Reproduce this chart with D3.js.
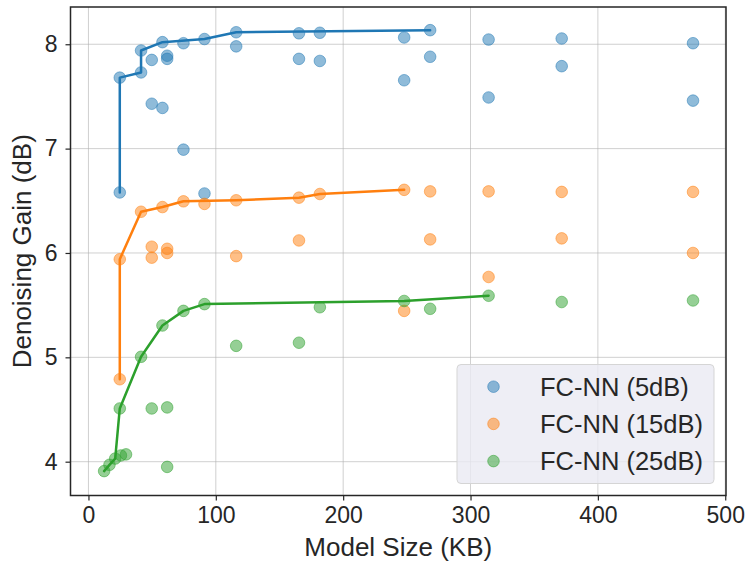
<!DOCTYPE html>
<html>
<head>
<meta charset="utf-8">
<script src="https://cdn.jsdelivr.net/npm/d3@7"></script>
<style>
  html, body { margin: 0; padding: 0; background: #fff; }
  svg { display: block; font-family: Arial, "Liberation Sans", Helvetica, sans-serif; }
</style>
</head>
<body>
<svg id="chart" width="748" height="561"></svg>
<script>
// Model size (KB) and denoising gain (dB) for each FC-NN configuration
const sizes5 = [24.6, 24.6, 41.3, 41.3, 49.7, 49.7, 58.1, 58.1, 61.8, 61.8, 74.6, 74.6, 91.1, 91.1,
                116, 116, 165.3, 165.3, 181.7, 181.7, 247.9, 247.9, 268.3, 268.3, 314.2, 314.2,
                371.6, 371.6, 474.7, 474.7];
const gains5 = [6.58, 7.68, 7.73, 7.94, 7.85, 7.43, 8.02, 7.39, 7.89, 7.86, 8.01, 6.99, 8.05, 6.57,
                8.115, 7.98, 8.105, 7.86, 8.11, 7.84, 8.065, 7.655, 8.135, 7.88, 8.045, 7.49,
                8.055, 7.79, 8.01, 7.46];

const sizes15 = [24.6, 24.6, 41.3, 49.7, 49.7, 58.1, 61.8, 61.8, 74.6, 91.1, 116, 116, 165.3, 165.3,
                 181.7, 247.9, 247.9, 268.3, 268.3, 314.2, 314.2, 371.6, 371.6, 474.7, 474.7];
const gains15 = [4.79, 5.94, 6.395, 6.06, 5.955, 6.44, 6.04, 6.00, 6.495, 6.47, 6.505, 5.97, 6.53, 6.12,
                 6.565, 6.605, 5.445, 6.59, 6.13, 6.59, 5.77, 6.585, 6.14, 6.585, 6.00];

const sizes25 = [12.3, 16.5, 21.0, 25.5, 29.5, 24.6, 41.3, 49.7, 58.1, 61.8, 61.8, 74.6, 91.1, 116,
                 165.3, 181.7, 247.9, 268.3, 314.2, 371.6, 474.7];
const gains25 = [3.91, 3.97, 4.03, 4.06, 4.07, 4.51, 5.005, 4.51, 5.305, 4.52, 3.95, 5.445, 5.51, 5.11,
                 5.14, 5.48, 5.54, 5.465, 5.59, 5.53, 5.545];

const seriesNames = ["FC-NN (5dB)", "FC-NN (15dB)", "FC-NN (25dB)"];
const seriesColors = ["#1f77b4", "#ff7f0e", "#2ca02c"];
const xTicks = [0, 100, 200, 300, 400, 500];
const yTicks = [4, 5, 6, 7, 8];

const series = [
  { name: seriesNames[0], color: seriesColors[0], sizes: sizes5, gains: gains5 },
  { name: seriesNames[1], color: seriesColors[1], sizes: sizes15, gains: gains15 },
  { name: seriesNames[2], color: seriesColors[2], sizes: sizes25, gains: gains25 }
];
series.forEach(s => { s.points = s.sizes.map((d, i) => ({ size: d, gain: s.gains[i] })); });

// Pareto front: walk by increasing size, keep points that raise the best gain so far
function paretoFront(points) {
  const sorted = points.slice().sort((a, b) => a.size - b.size || a.gain - b.gain);
  const front = [];
  let best = -Infinity;
  sorted.forEach(p => { if (p.gain > best) { front.push(p); best = p.gain; } });
  return front;
}

const svg = d3.select("#chart");
const plot = { left: 70.5, right: 726, top: 7, bottom: 495.5 };
const fontStack = "Arial, 'Liberation Sans', Helvetica, sans-serif";

const x = d3.scaleLinear().domain([-14.1, 500.6]).range([plot.left, plot.right]);
const y = d3.scaleLinear().domain([3.676, 8.357]).range([plot.bottom, plot.top]);

const ink = "#262626";

// grid
const grid = svg.append("g");
grid.selectAll("line.vx").data(xTicks).join("line")
  .attr("x1", d => x(d)).attr("x2", d => x(d))
  .attr("y1", plot.top).attr("y2", plot.bottom)
  .attr("stroke", "#b0b0b0").attr("stroke-opacity", 0.6).attr("stroke-width", 1);
grid.selectAll("line.hy").data(yTicks).join("line")
  .attr("x1", plot.left).attr("x2", plot.right)
  .attr("y1", d => y(d)).attr("y2", d => y(d))
  .attr("stroke", "#b0b0b0").attr("stroke-opacity", 0.6).attr("stroke-width", 1);

// scatter points (all series first, lines drawn on top)
series.forEach(s => {
  svg.append("g").selectAll("circle").data(s.points).join("circle")
    .attr("cx", d => x(d.size)).attr("cy", d => y(d.gain)).attr("r", 5.8)
    .attr("fill", s.color).attr("fill-opacity", 0.5)
    .attr("stroke", s.color).attr("stroke-opacity", 0.5).attr("stroke-width", 1);
});

const line = d3.line().x(d => x(d.size)).y(d => y(d.gain));
series.forEach(s => {
  svg.append("path").datum(paretoFront(s.points))
    .attr("d", line).attr("fill", "none")
    .attr("stroke", s.color).attr("stroke-width", 2.5)
    .attr("stroke-linejoin", "round").attr("stroke-linecap", "round");
});

// axes
const xAxis = svg.append("g").attr("transform", `translate(0,${plot.bottom})`)
  .call(d3.axisBottom(x).tickValues(xTicks).tickSize(5).tickPadding(6).tickFormat(d3.format("d")));
const yAxis = svg.append("g").attr("transform", `translate(${plot.left},0)`)
  .call(d3.axisLeft(y).tickValues(yTicks).tickSize(5).tickPadding(8).tickFormat(d3.format("d")));
[xAxis, yAxis].forEach(a => {
  a.attr("font-family", null).attr("font-size", null);
  a.select(".domain").remove();
  a.selectAll(".tick line").attr("stroke", ink).attr("stroke-width", 1.2);
  a.selectAll(".tick text").attr("fill", ink).style("font-size", "23px")
    .style("font-family", fontStack);
});

// frame
svg.append("rect")
  .attr("x", plot.left).attr("y", plot.top)
  .attr("width", plot.right - plot.left).attr("height", plot.bottom - plot.top)
  .attr("fill", "none").attr("stroke", ink).attr("stroke-width", 1.5);

// axis titles
svg.append("text").attr("x", (plot.left + plot.right) / 2).attr("y", 555.5)
  .attr("text-anchor", "middle").attr("fill", ink)
  .style("font-size", "26px").style("font-family", fontStack)
  .text("Model Size (KB)");
svg.append("text")
  .attr("transform", `translate(31,${(plot.top + plot.bottom) / 2}) rotate(-90)`)
  .attr("text-anchor", "middle").attr("fill", ink)
  .style("font-size", "26px").style("font-family", fontStack)
  .text("Denoising Gain (dB)");

// legend
const legend = svg.append("g");
legend.append("rect")
  .attr("x", 457).attr("y", 364.5).attr("width", 257).attr("height", 119).attr("rx", 4)
  .attr("fill", "#eaeaf2").attr("fill-opacity", 0.8)
  .attr("stroke", "#d5d5d5").attr("stroke-width", 1);
series.forEach((s, i) => {
  const cy = 386.7 + i * 37.2;
  legend.append("circle").attr("cx", 493.5).attr("cy", cy).attr("r", 5.8)
    .attr("fill", s.color).attr("fill-opacity", 0.5)
    .attr("stroke", s.color).attr("stroke-opacity", 0.5).attr("stroke-width", 1);
  legend.append("text").attr("x", 540).attr("y", cy).attr("dy", "0.36em")
    .attr("fill", ink).style("font-size", "25.5px").style("font-family", fontStack)
    .text(s.name);
});
</script>
</body>
</html>
